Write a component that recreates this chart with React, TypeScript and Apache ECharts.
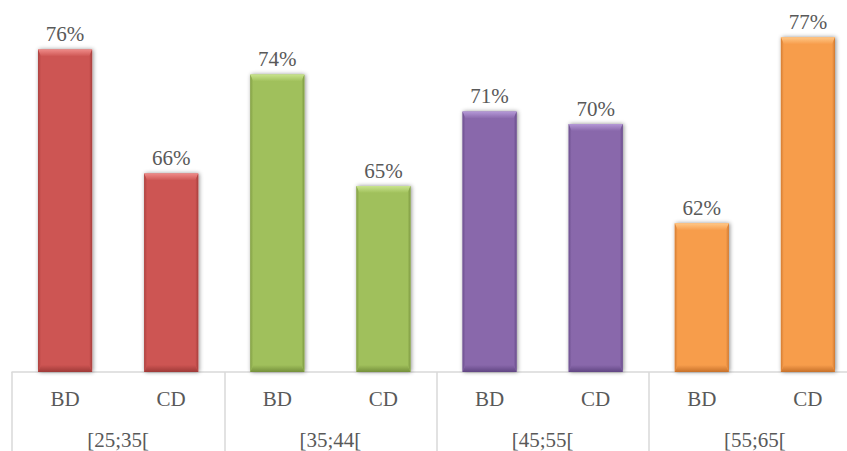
import React, { useEffect, useRef } from "react";
import * as echarts from "echarts";

const subCategories = ["BD", "CD", "BD", "CD", "BD", "CD", "BD", "CD"];
const groups = ["[25;35[", "[35;44[", "[45;55[", "[55;65["];
const values = [0.76, 0.66, 0.74, 0.65, 0.71, 0.7, 0.62, 0.77];
const groupColors = ["#CD5452", "#A0C05B", "#8968AB", "#F79D4C"];
const groupLight = ["#EE8A87", "#C9E48E", "#B498D6", "#FFC888"];
const groupDark = ["#9E3A38", "#75903C", "#614683", "#C7712A"];

const FONT = "'Liberation Serif', 'Times New Roman', serif";
const TEXT = "#595959";

export default function App() {
  const ref = useRef<HTMLDivElement>(null);
  useEffect(() => {
    const chart = echarts.init(ref.current!, null, { renderer: "svg" });
    const renderItem = (params: any, api: any) => {
      const idx = api.value(0);
      const v = api.value(1);
      const g = Math.floor(idx / 2);
      const topPt = api.coord([idx, v]);
      const basePt = api.coord([idx, 0.5]);
      const w = api.size([1, 0])[0] * 0.51;
      const l = topPt[0] - w / 2;
      const r = topPt[0] + w / 2;
      const t = topPt[1];
      const b = basePt[1];
      const bv = 7;
      const sv = 3;
      const base = groupColors[g];
      return {
        type: "group",
        children: [
          {
            type: "rect",
            shape: { x: l, y: t, width: w, height: b - t },
            style: {
              fill: base,
              shadowBlur: 4,
              shadowOffsetX: 1,
              shadowOffsetY: 0,
              shadowColor: "rgba(0,0,0,0.45)",
            },
          },
          {
            type: "polygon",
            shape: { points: [[l, t], [r, t], [r - sv, t + bv], [l + sv, t + bv]] },
            style: {
              fill: new echarts.graphic.LinearGradient(0, 0, 0, 1, [
                { offset: 0, color: groupLight[g] },
                { offset: 1, color: base },
              ]),
            },
          },
          {
            type: "polygon",
            shape: { points: [[l, b], [r, b], [r - sv, b - bv], [l + sv, b - bv]] },
            style: {
              fill: new echarts.graphic.LinearGradient(0, 0, 0, 1, [
                { offset: 0, color: base },
                { offset: 1, color: groupDark[g] },
              ]),
            },
          },
          {
            type: "polygon",
            shape: { points: [[l, t], [l + sv, t + bv], [l + sv, b - bv], [l, b]] },
            style: {
              fill: new echarts.graphic.LinearGradient(0, 0, 1, 0, [
                { offset: 0, color: groupDark[g] },
                { offset: 1, color: base },
              ]),
              opacity: 0.7,
            },
          },
          {
            type: "polygon",
            shape: { points: [[r, t], [r - sv, t + bv], [r - sv, b - bv], [r, b]] },
            style: {
              fill: new echarts.graphic.LinearGradient(1, 0, 0, 0, [
                { offset: 0, color: groupDark[g] },
                { offset: 1, color: base },
              ]),
              opacity: 0.8,
            },
          },
          {
            type: "text",
            x: topPt[0],
            y: t - 5,
            style: {
              text: Math.round(v * 100) + "%",
              fill: TEXT,
              font: `21px ${FONT}`,
              align: "center",
              verticalAlign: "bottom",
            },
          },
        ],
      };
    };
    chart.setOption({
      animation: false,
      grid: { left: 12, top: 0, right: 0, bottom: 79 },
      xAxis: [
        {
          type: "category",
          data: subCategories,
          position: "bottom",
          axisLine: { show: true, lineStyle: { color: "#D9D9D9", width: 1.5 } },
          axisTick: { show: false },
          axisLabel: { color: TEXT, fontFamily: FONT, fontSize: 21, margin: 16 },
        },
        {
          type: "category",
          data: groups,
          position: "bottom",
          boundaryGap: true,
          axisLine: { show: false },
          axisTick: { show: true, length: 85, lineStyle: { color: "#D9D9D9", width: 1.5 } },
          axisLabel: { color: TEXT, fontFamily: FONT, fontSize: 21, margin: 57 },
        },
      ],
      yAxis: {
        type: "value",
        min: 0.5,
        max: 0.8,
        show: false,
        splitLine: { show: false },
      },
      series: [
        {
          type: "custom",
          xAxisIndex: 0,
          renderItem,
          data: values.map((v, i) => [i, v]),
          clip: false,
        },
      ],
    });
    return () => chart.dispose();
  }, []);
  return (
    <div
      style={{
        position: "fixed",
        left: 0,
        top: 0,
        width: 847,
        height: 451,
        overflow: "hidden",
        background: "#fff",
      }}
    >
      <div ref={ref} style={{ width: 861, height: 451 }} />
    </div>
  );
}
